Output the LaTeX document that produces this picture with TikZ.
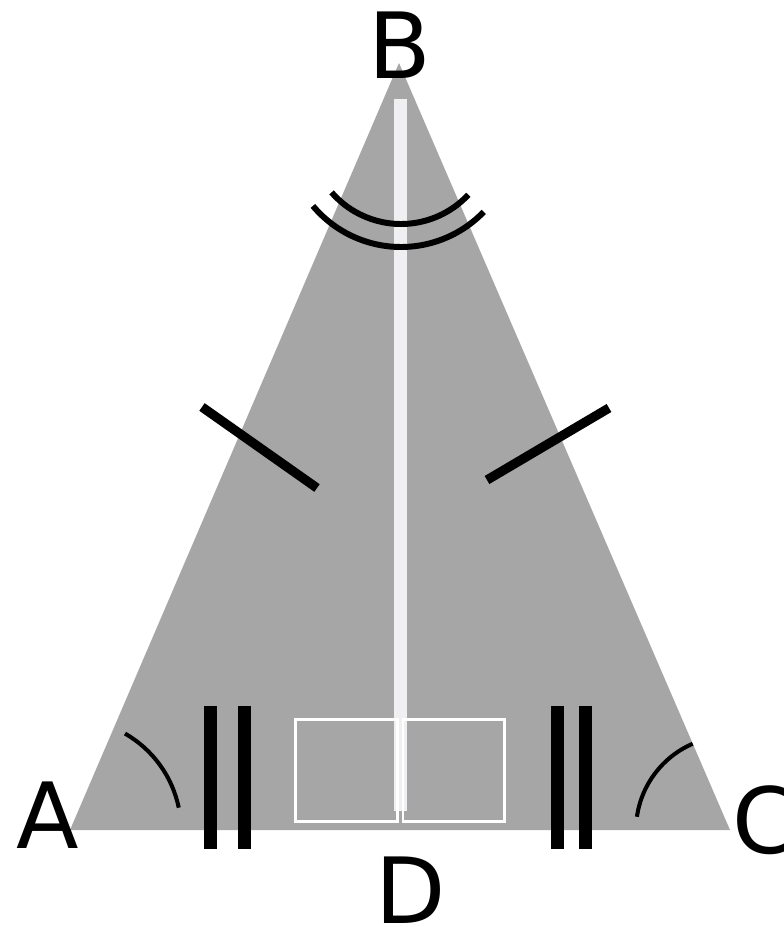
\documentclass[tikz,border=0pt]{standalone}
\usepackage{fontspec}
\setmainfont{DejaVu Sans}
\usepackage{tikz}
\usetikzlibrary{positioning}
\definecolor{flaeche}{HTML}{A6A6A6}
\definecolor{hoehe}{HTML}{F0F0F2}

\begin{document}
\begin{tikzpicture}[x=0.02cm, y=-0.02cm,
    buchstabe/.style={inner sep=0pt, anchor=base, font=\fontsize{52}{60}\selectfont},
    strich/.style={line width=5.3pt, line cap=butt},
    balken/.style={line width=7.4pt, line cap=butt},
    bogen/.style={line width=3.4pt},
    winkel/.style={line width=2.3pt}]

    \useasboundingbox (0,0) rectangle (784,927);

    % Eckpunkte des Dreiecks
    \coordinate (A) at (70,830);
    \coordinate (B) at (399,63);
    \coordinate (C) at (730,830);
    \coordinate (D) at (400.5,830);
    \coordinate (M) at (401,132);

    % Dreiecksfläche
    \fill[flaeche] (A) -- (B) -- (C) -- cycle;

    % Höhe von B auf die Grundseite
    \coordinate (H1) at (400.5,99);
    \coordinate (H2) at (400.5,811);
    \draw[hoehe, line width=7.2pt] (H1) -- (H2);

    % rechte Winkel bei D
    \draw[white, line width=1.7pt] (295.5,719.5) rectangle (397.5,821.5);
    \draw[white, line width=1.7pt] (403,719.5) rectangle (504.5,821.5);

    % gleich lange Hälften der Grundseite
    \draw[balken] (210.8,706) -- (210.8,849);
    \draw[balken] (244.5,706) -- (244.5,849);
    \draw[balken] (557.5,706) -- (557.5,849);
    \draw[balken] (585.5,706) -- (585.5,849);

    % gleich lange Schenkel
    \draw[strich] (202,407) -- (317,488);
    \draw[strich] (487,480) -- (609,408);

    % halbierter Winkel bei B
    \draw[bogen] (M) ++(139:92) arc[start angle=139, end angle=43, radius=92];
    \draw[bogen] (M) ++(140:115) arc[start angle=140, end angle=44, radius=115];

    % Basiswinkel
    \draw[winkel] (A) ++(-60.3:111) arc[start angle=-60.3, end angle=-11.6, radius=111];
    \draw[winkel] (C) ++(246.6:94) arc[start angle=246.6, end angle=188.1, radius=94];

    % Beschriftung
    \node[buchstabe] (labA) at (48,848) {A};
    \node[buchstabe] (labB) at (400,78) {B};
    \node[buchstabe] (labC) at (764,853) {C};
    \node[buchstabe] (labD) at (411,923) {D};

\end{tikzpicture}
\end{document}
